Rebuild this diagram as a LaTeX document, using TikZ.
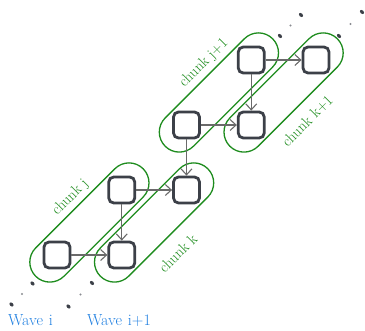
\documentclass[tikz,border=0pt]{standalone}
\usetikzlibrary{arrows.meta}
\definecolor{chunkgreen}{HTML}{1E8C1E}
\definecolor{waveblue}{HTML}{1F7FE0}
\definecolor{boxgray}{HTML}{3C4048}
\definecolor{arrowgray}{HTML}{6A6A6A}
\begin{document}
\begin{tikzpicture}[x=1pt,y=-1pt,
  task/.style={draw=boxgray, line width=2.8pt, fill=white, rounded corners=5pt,
    minimum size=26pt, inner sep=0pt},
  dep/.style={draw=arrowgray, line width=1.1pt, -{Straight Barb[length=6pt,width=11pt]}},
  capsule/.style={draw=chunkgreen, line width=1.3pt, rounded corners=20pt,
    minimum width=152pt, minimum height=40pt, rotate=45, inner sep=0pt},
  chunklabel/.style={text=chunkgreen, font=\fontsize{15}{17}\selectfont,
    rotate=45, inner sep=0pt},
  wavelabel/.style={text=waveblue, font=\fontsize{16}{18}\selectfont,
    anchor=base west, inner sep=0pt},
  bigdot/.style={fill=boxgray, rotate=-45},
  smalldot/.style={fill=boxgray!60},
]
\useasboundingbox (0,0) rectangle (365,331);

% chunks (two tasks each, along the diagonal)
\node[capsule] (cj)  at (89.4,222.5)  {};
\node[capsule] (ck)  at (154.1,222.5) {};
\node[capsule] (cj1) at (218.9,92.5)  {};
\node[capsule] (ck1) at (283.6,92.5)  {};

\node[chunklabel] (lj)  at (70.5,197.5) {chunk j};
\node[chunklabel] (lk)  at (178,253)    {chunk k};
\node[chunklabel] (lj1) at (204,63)     {chunk j+1};
\node[chunklabel] (lk1) at (307.5,121)  {chunk k+1};

% tasks
\node[task] (A) at (57,255)     {};
\node[task] (B) at (121.75,190) {};
\node[task] (C) at (121.75,255) {};
\node[task] (D) at (186.5,190)  {};
\node[task] (E) at (186.5,125)  {};
\node[task] (F) at (251.25,60)  {};
\node[task] (G) at (251.25,125) {};
\node[task] (H) at (316,60)     {};

% dependencies
\draw[dep] (A) -- (C);
\draw[dep] (B) -- (D);
\draw[dep] (B) -- (C);
\draw[dep] (E) -- (D);
\draw[dep] (E) -- (G);
\draw[dep] (F) -- (H);
\draw[dep] (F) -- (G);

% continuation dots of each wave
\coordinate (wa1) at (32.5,283.5);
\coordinate (wa2) at (22,294);
\coordinate (wa3) at (11.5,304.5);
\coordinate (wb1) at (92,283);
\coordinate (wb2) at (80.5,294.5);
\coordinate (wb3) at (68.5,306.5);
\coordinate (wc1) at (280,36);
\coordinate (wc2) at (290.5,25.5);
\coordinate (wc3) at (301,15);
\coordinate (wd1) at (339,36);
\coordinate (wd2) at (350.5,24);
\coordinate (wd3) at (362,12);
\foreach \p in {wa1,wa3,wb1,wb3,wc1,wc3,wd1,wd3}
  \fill[bigdot] (\p) ellipse [x radius=2.4pt, y radius=1.7pt];
\foreach \p in {wa2,wb2,wc2,wd2}
  \fill[smalldot] (\p) circle (1.1pt);

% wave captions
\node[wavelabel] (wi)  at (8,326)  {Wave\hspace{6pt}i};
\node[wavelabel] (wi1) at (87,326) {Wave\hspace{6pt}i+1};
\end{tikzpicture}
\end{document}
